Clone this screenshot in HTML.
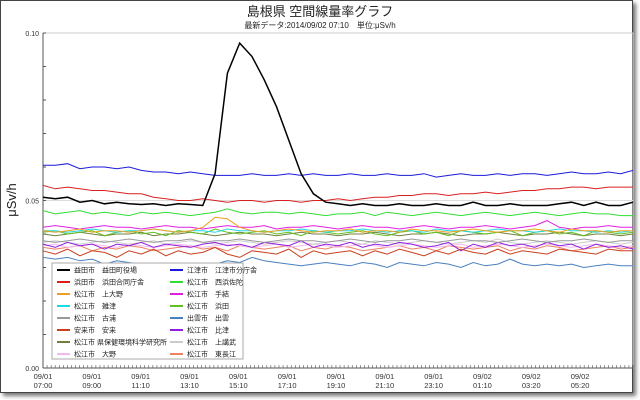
<!DOCTYPE html>
<html><head><meta charset="utf-8">
<style>
body{margin:0;background:#fff;width:640px;height:400px;overflow:hidden;font-family:"Liberation Sans","Noto Sans CJK JP",sans-serif}
#frame{position:absolute;left:0;top:0;width:631px;height:391px;border:1px solid #444;box-shadow:3px 3px 4px #777;background:#fff}
svg{position:absolute;left:0;top:0}
</style></head><body>
<div id="frame"></div>
<svg id="c" width="640" height="400"></svg>
<script>
const timeLabels=["09/01 07:00","09/01 09:00","09/01 11:10","09/01 13:10","09/01 15:10","09/01 17:10","09/01 19:10","09/01 21:10","09/01 23:10","09/02 01:10","09/02 03:20","09/02 05:20"];
const yTicks=[0,0.05,0.10];
const sBlack=[.051,.0505,.051,.0495,.05,.049,.0495,.049,.0488,.049,.0485,.049,.0488,.0485,.058,.088,.097,.093,.086,.078,.068,.058,.052,.0495,.049,.0485,.049,.0485,.0485,.049,.0485,.0485,.049,.0485,.0485,.0495,.0485,.0485,.049,.0485,.0485,.0485,.049,.0495,.0485,.0495,.0485,.0485,.0495];
const sBlue=[.0605,.0605,.061,.0595,.060,.060,.0595,.060,.059,.0585,.0585,.058,.0585,.058,.0575,.0575,.0575,.058,.0575,.0575,.058,.0575,.058,.0575,.0575,.058,.0575,.0575,.058,.0575,.0575,.058,.057,.0575,.058,.0575,.0575,.058,.0575,.058,.058,.0575,.058,.0585,.058,.058,.0585,.058,.059];
const sRed=[.0545,.0535,.054,.0535,.053,.053,.0525,.052,.052,.051,.0505,.050,.050,.0505,.050,.0495,.050,.050,.0495,.050,.050,.0495,.050,.050,.0505,.050,.0505,.051,.051,.0515,.0515,.052,.052,.0515,.052,.052,.0525,.052,.0525,.053,.053,.0535,.0535,.054,.054,.0535,.054,.054,.054];
const sGreen=[.047,.046,.0465,.047,.046,.0465,.046,.0455,.0465,.046,.0465,.046,.0455,.046,.0465,.0475,.0465,.046,.0465,.0465,.046,.0465,.046,.0455,.046,.046,.0465,.0455,.0465,.046,.0455,.046,.0465,.046,.0455,.046,.0465,.046,.0455,.046,.0465,.046,.0455,.046,.0465,.046,.046,.0455,.0455];
const sMagenta=[.042,.0425,.042,.0415,.042,.0425,.042,.042,.0415,.042,.0425,.042,.042,.0415,.042,.0425,.042,.042,.0425,.0415,.042,.042,.0425,.042,.0415,.042,.0425,.042,.042,.0415,.042,.0425,.042,.0415,.042,.042,.0425,.042,.0415,.042,.0425,.044,.042,.0415,.042,.042,.0425,.042,.042];
const sOrange=[.041,.0405,.041,.0415,.0405,.041,.041,.0405,.041,.0415,.041,.0405,.041,.042,.045,.0445,.042,.041,.0405,.041,.0415,.041,.0405,.041,.041,.0415,.0405,.041,.041,.0405,.0415,.041,.041,.0405,.041,.0415,.041,.0405,.041,.041,.0415,.041,.0405,.0415,.041,.041,.0405,.041,.041];
const sCyan=[.041,.041,.0405,.041,.0415,.041,.0405,.041,.041,.0415,.041,.0405,.041,.041,.0405,.0415,.041,.041,.0405,.041,.041,.0415,.041,.0405,.041,.041,.0415,.041,.0405,.041,.041,.0405,.0415,.041,.041,.0405,.041,.0415,.041,.041,.0405,.041,.0415,.041,.041,.0405,.041,.0405,.041];
const sOlive=[.040,.0395,.040,.0405,.040,.0395,.040,.040,.0405,.0395,.040,.040,.0405,.040,.0395,.040,.0405,.040,.040,.0395,.040,.0405,.040,.040,.0395,.040,.040,.0405,.040,.0395,.040,.040,.0405,.040,.0395,.040,.040,.0405,.040,.0395,.040,.040,.0405,.040,.0395,.040,.040,.0395,.040];
const sYellowGreen=[.0405,.041,.040,.0405,.041,.0395,.0405,.041,.040,.0405,.0395,.041,.0405,.040,.0415,.0405,.040,.0405,.041,.040,.0405,.0395,.041,.0405,.040,.0405,.041,.040,.0395,.0405,.041,.040,.0405,.0395,.041,.0405,.040,.0405,.041,.0395,.0405,.041,.040,.0405,.0395,.041,.0405,.040,.0405];
const sGray=[.038,.0375,.038,.0385,.038,.0375,.038,.0385,.038,.0375,.038,.038,.0385,.0375,.038,.038,.0385,.038,.0375,.038,.0385,.038,.038,.0375,.038,.0385,.038,.0375,.038,.038,.0385,.038,.0375,.038,.0385,.038,.038,.0375,.038,.0385,.038,.0375,.038,.038,.0385,.038,.0375,.038,.038];
const sPurple=[.037,.036,.0375,.0365,.037,.0355,.037,.0365,.0375,.036,.037,.0365,.036,.037,.0375,.0365,.037,.036,.0375,.037,.0365,.038,.036,.037,.0365,.0375,.036,.037,.0365,.0375,.037,.036,.0365,.0375,.035,.037,.036,.0375,.0365,.037,.036,.0375,.0365,.037,.0355,.037,.036,.0365,.0355];
const sPink=[.0365,.037,.036,.0365,.037,.0365,.036,.037,.0365,.036,.0365,.037,.0365,.036,.0365,.037,.0365,.036,.0365,.037,.036,.0365,.037,.0365,.036,.0365,.037,.0365,.036,.0365,.037,.0365,.036,.0365,.037,.036,.0365,.037,.0365,.036,.0365,.037,.0365,.036,.0365,.037,.0365,.036,.0365];
const sLightGray=[.0375,.038,.0375,.037,.0375,.038,.0375,.037,.0375,.038,.037,.0375,.038,.0375,.037,.0375,.038,.0375,.037,.0375,.038,.0375,.037,.0375,.038,.0375,.037,.038,.0375,.037,.0375,.038,.0375,.037,.0375,.038,.0375,.0385,.0375,.037,.0375,.038,.0375,.037,.0375,.038,.0375,.037,.0375];
const sSalmon=[.036,.0355,.036,.0365,.035,.036,.0355,.0365,.036,.035,.0355,.036,.0365,.0355,.036,.035,.0365,.036,.0355,.036,.0365,.035,.036,.0355,.0365,.036,.035,.0355,.036,.0365,.0355,.036,.035,.0365,.036,.0355,.036,.0365,.035,.036,.0355,.0365,.036,.035,.0355,.036,.0365,.0355,.036];
const sDarkRed=[.035,.034,.0355,.0335,.035,.0345,.033,.035,.034,.0355,.0335,.035,.034,.0345,.036,.034,.033,.035,.0345,.034,.0355,.033,.035,.034,.0345,.035,.0335,.035,.034,.0355,.0345,.0335,.035,.034,.0355,.0345,.034,.0355,.034,.035,.0345,.034,.0355,.035,.0345,.034,.0355,.035,.035];
const sSteelBlue=[.033,.0325,.033,.032,.0325,.031,.032,.0315,.031,.030,.0305,.031,.030,.0305,.031,.032,.0315,.033,.032,.0315,.031,.0305,.031,.0315,.031,.0305,.0315,.031,.030,.0315,.031,.0305,.0315,.031,.030,.0315,.0305,.031,.0325,.031,.0305,.031,.0305,.031,.030,.0305,.031,.0305,.0305];
const series=[
 ["益田市　益田町役場","#000",sBlack],["江津市　江津市分庁舎","#1a1adc",sBlue],
 ["浜田市　浜田合同庁舎","#d92020",sRed],["松江市　西浜佐陀","#33dd33",sGreen],
 ["松江市　上大野","#f0a020",sOrange],["松江市　手結","#e020e0",sMagenta],
 ["松江市　雑津","#20d8e0",sCyan],["松江市　浜田","#60c020",sYellowGreen],
 ["松江市　古浦","#999",sGray],["出雲市　出雲","#4a80c0",sSteelBlue],
 ["安来市　安来","#c84020",sDarkRed],["松江市　比津","#9020e0",sPurple],
 ["松江市 県保健環境科学研究所","#708040",sOlive],["松江市　上講武","#ccc",sLightGray],
 ["松江市　大野","#f4b8f0",sPink],["松江市　東長江","#f08060",sSalmon]];
const svg=document.getElementById('c');const NS='http://www.w3.org/2000/svg';
const L=43,R=633,T=33,B=368;
const xs=i=>L+i*(R-L)/48, ys=v=>B-(v/0.10)*(B-T);
function el(t,a,p){const e=document.createElementNS(NS,t);for(const k in a)e.setAttribute(k,a[k]);(p||svg).appendChild(e);return e;}
let e;
e=el('text',{x:320,y:16,'text-anchor':'middle','font-size':13,fill:'#222'});e.textContent='島根県 空間線量率グラフ';


e=el('text',{x:320,y:28,'text-anchor':'middle','font-size':8,fill:'#222'});e.textContent='最新データ:2014/09/02 07:10　単位:μSv/h';


e=el('text',{x:16,y:200,'text-anchor':'middle','font-size':13,fill:'#222',transform:'rotate(-90 16 200)'});e.textContent='μSv/h';


e=el('rect',{x:L,y:T,width:R-L,height:B-T,fill:'none',stroke:'#ccc'});


e=el('line',{x1:L,x2:R,y1:ys(0.05),y2:ys(0.05),stroke:'#ddd'});


e=el('line',{x1:L,x2:L,y1:T,y2:B,stroke:'#555'});


e=el('line',{x1:L,x2:R,y1:B,y2:B,stroke:'#555'});


yTicks.forEach(v=>{const t=el('text',{x:39,y:ys(v)+3,'text-anchor':'end','font-size':7,fill:'#333'});t.textContent=v.toFixed(2);

});
for(let k=0;k<=10;k++){const l=el('line',{x1:L,x2:L+3,y1:ys(k*0.01),y2:ys(k*0.01),stroke:'#555'});

}
for(let k=0;k<=145;k++){const x=L+k*(R-L)/145;const l=el('line',{x1:x,x2:x,y1:B-3,y2:B,stroke:'#555','stroke-width':0.6});

}
timeLabels.forEach((s,k)=>{const x=L+k*(R-L)*12/145;const p=s.split(' ');
const t=el('text',{x:x,y:379,'text-anchor':'middle','font-size':7.5,fill:'#333'});t.textContent=p[0];


const t2=el('text',{x:x,y:388,'text-anchor':'middle','font-size':7.5,fill:'#333'});t2.textContent=p[1];

});
series.slice().reverse().forEach(s=>{const d=s[2].map((v,i)=>(i?'L':'M')+xs(i).toFixed(1)+' '+ys(v).toFixed(1)).join(' ');
const p=el('path',{d:d,fill:'none',stroke:s[1],'stroke-width':s[2]===sBlack?1.5:1});

});
const lg=el('g',{});


e=el('rect',{x:52,y:263,width:191,height:96,fill:'#fff',stroke:'#aaa'},lg);
series.forEach((s,k)=>{const col=k%2,row=Math.floor(k/2);const x=col?170:57,y=270+row*12;
const l=el('line',{x1:x,x2:x+13,y1:y,y2:y,stroke:s[1],'stroke-width':2},lg);


const t=el('text',{x:x+17,y:y+2.5,'font-size':7,fill:'#222'},lg);t.textContent=s[0];

});
</script>
</body></html>
